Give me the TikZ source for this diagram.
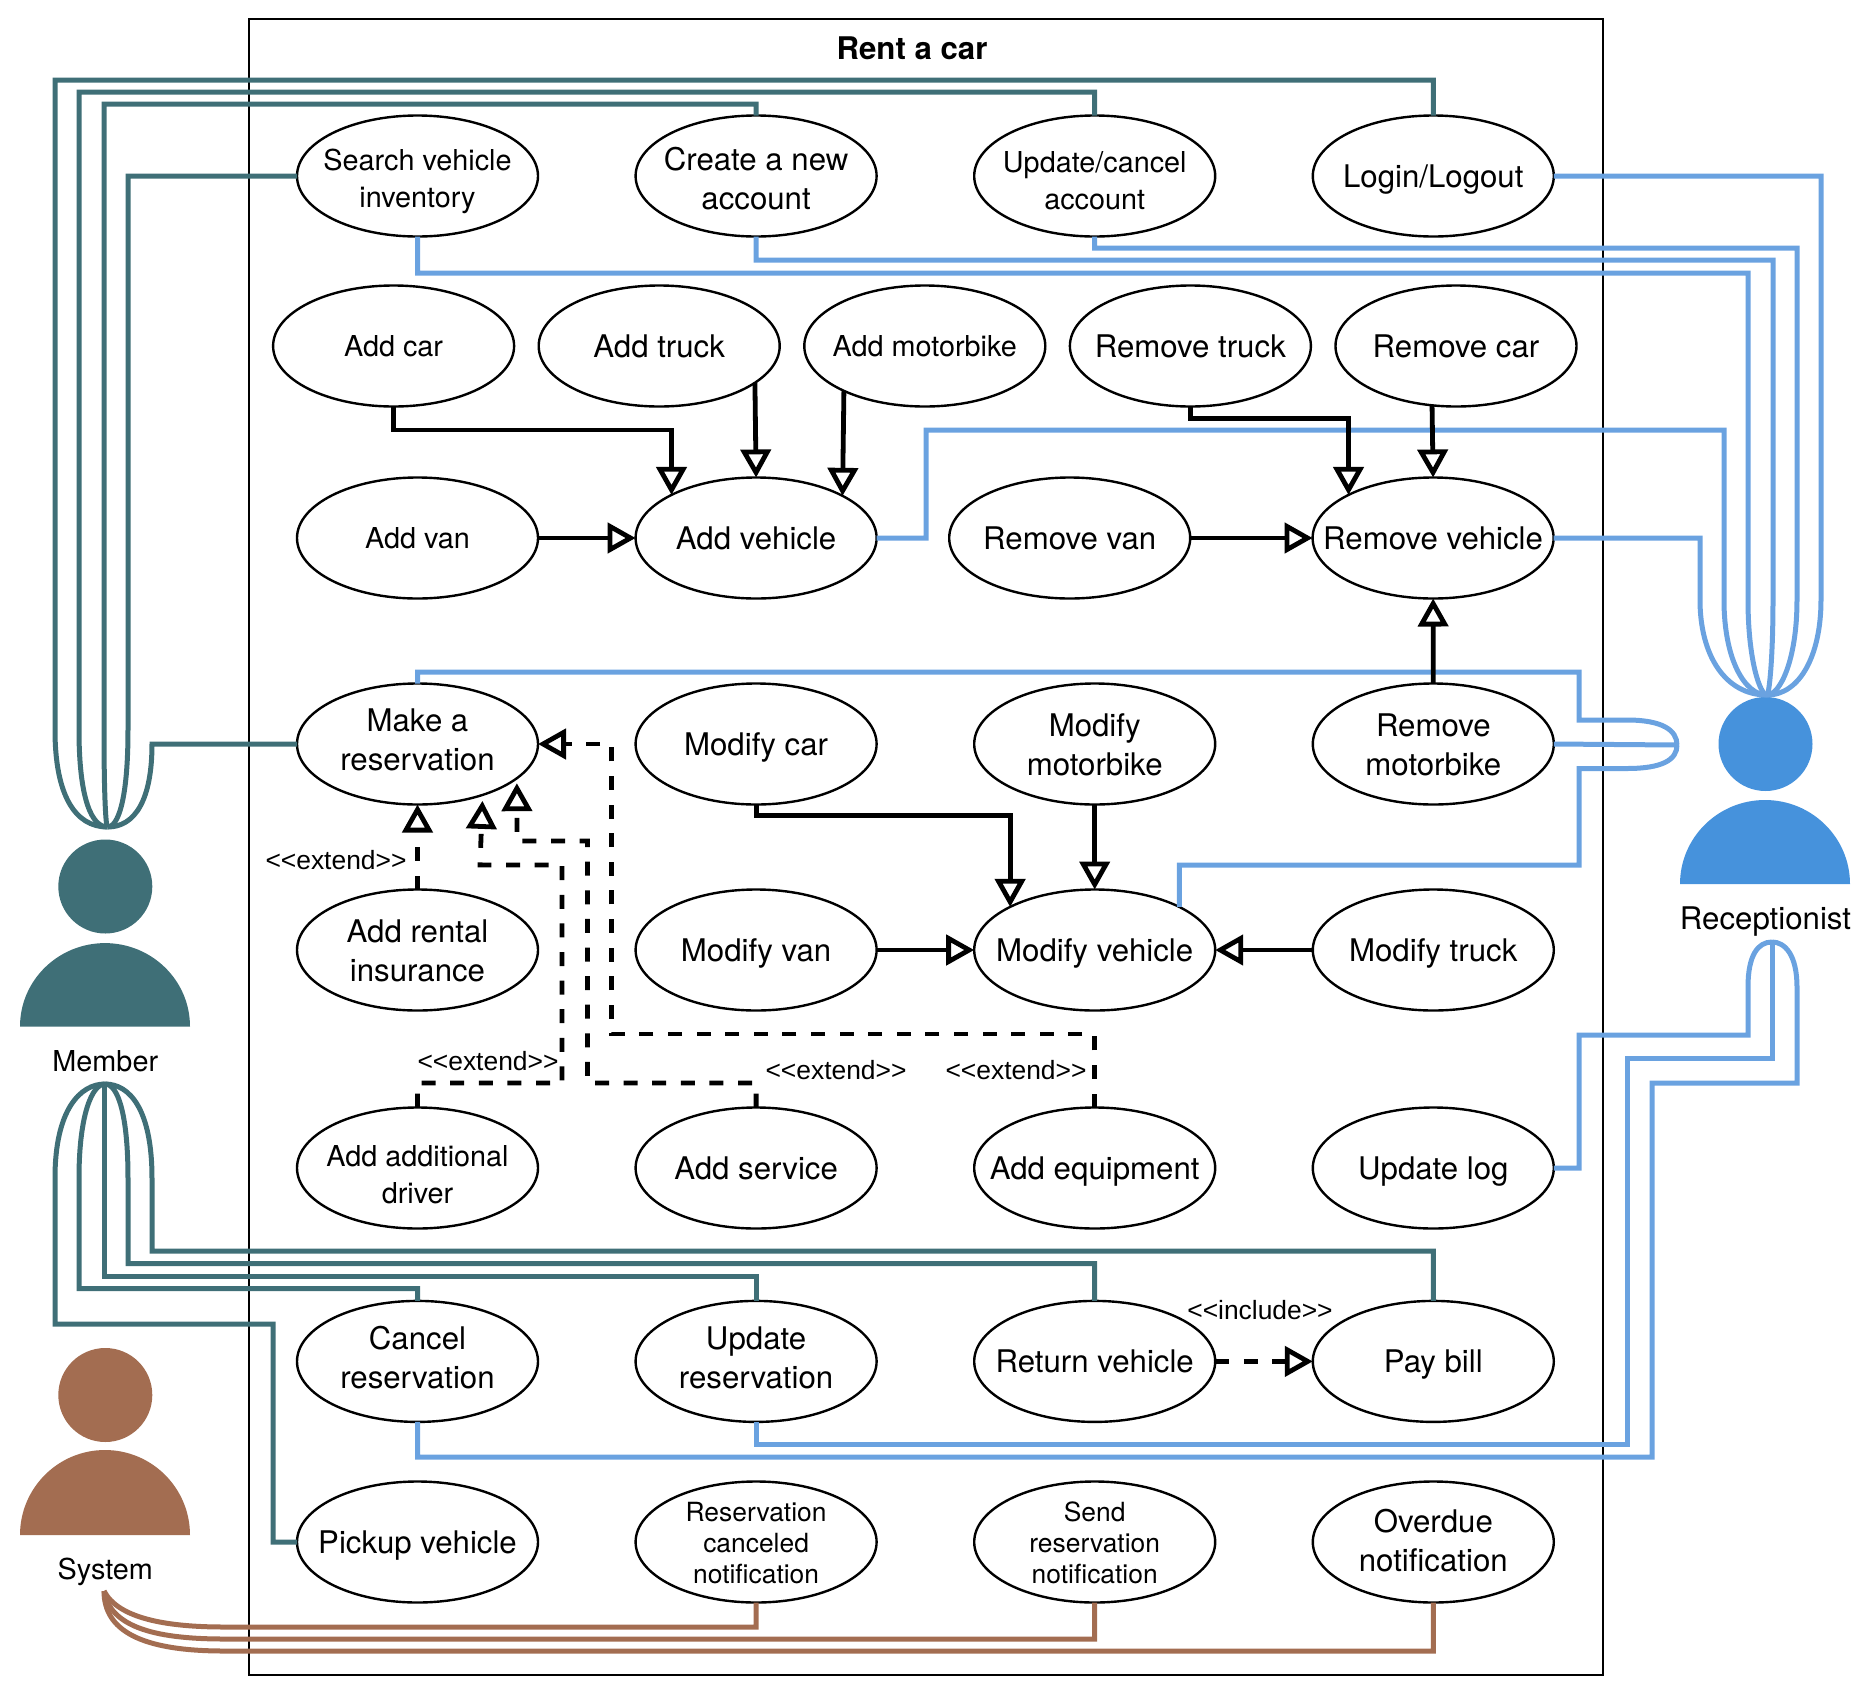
\documentclass[tikz,border=0pt]{standalone}
\usepackage{fontspec}
\setmainfont{TeX Gyre Heros}
\newfontfamily\tagfont{Liberation Sans}
\usepackage{xcolor}
\usepackage{tikz}
\usetikzlibrary{shapes.geometric,arrows.meta,positioning}

\definecolor{memberblue}{HTML}{3F6F77}
\definecolor{clerkblue}{HTML}{6AA2E0}
\definecolor{clerkfill}{HTML}{4692DC}
\definecolor{systembrown}{HTML}{A36D51}

\begin{document}
\begin{tikzpicture}[
    x=0.5pt, y=-0.5pt,
    node distance=48.8pt,
    usecase/.style={ellipse, draw, line width=1.2pt, fill=white, minimum width=120.5pt, minimum height=60.5pt, inner sep=-14pt, outer sep=0pt, align=center, font=\fontsize{15.6}{19.5}\selectfont,
        execute at begin node={\rule[-4pt]{0pt}{\dimexpr 0.72em+8pt}},
        execute at end node={\rule[-4pt]{0pt}{0pt}}},
    smallcase/.style={usecase, font=\fontsize{14.4}{18.5}\selectfont},
    tinycase/.style={usecase, font=\fontsize{13.2}{15.6}\selectfont},
    textdown/.style={execute at begin node={\rule[-4pt]{0pt}{#1}}},
    tag/.style={font=\tagfont\fontsize{13.2}{15}\selectfont, inner sep=0pt},
    arrow/.style={-{Triangle[open,length=14pt,width=15pt]}, line width=2.4pt},
    dasharrow/.style={arrow, dash pattern=on 7pt off 7.3pt},
    memberline/.style={draw=memberblue, line width=2.5pt},
    clerkline/.style={draw=clerkblue, line width=2.5pt},
    systemline/.style={draw=systembrown, line width=2.5pt}
]
    \useasboundingbox (0,0) rectangle (1876,1698);

    % Frame
    \node[draw, line width=1.2pt, minimum width=677pt, minimum height=828pt, inner sep=0pt] (frame) at (926,847) {};
    \node[font=\bfseries\fontsize{15.6}{19}\selectfont] (title) at (912,48) {Rent a car};

    % Use cases
    \node[smallcase, textdown=39.5pt] (search) at (417.5,176) {Search vehicle\\inventory};
    \node[usecase, textdown=41.3pt, right=of search] (create) {Create a new\\account};
    \node[smallcase, textdown=41.3pt, right=of create] (update) {Update/cancel\\account};
    \node[usecase, right=of update] (login) {Login/Logout};

    \node[smallcase] (addcar) at (393.6,346) {Add car};
    \node[usecase, right=12.3pt of addcar] (addtruck) {Add truck};
    \node[smallcase, right=12.3pt of addtruck] (addmotorbike) {Add motorbike};
    \node[usecase, right=12.3pt of addmotorbike] (removetruck) {Remove truck};
    \node[usecase, right=12.3pt of removetruck] (removecar) {Remove car};

    \node[smallcase, below=120.5pt of search] (addvan) {Add van};
    \node[usecase, right=of addvan] (addvehicle) {Add vehicle};
    \node[usecase, right=36.3pt of addvehicle] (removevan) {Remove van};
    \node[usecase, right=61.2pt of removevan] (removevehicle) {Remove vehicle};

    \node[usecase, below=42.5pt of addvan] (makeres) {Make a\\reservation};
    \node[usecase, right=of makeres] (modifycar) {Modify car};
    \node[usecase, textdown=39.5pt, right=of modifycar] (modifymotorbike) {Modify\\motorbike};
    \node[usecase, textdown=39.5pt, right=of modifymotorbike] (removemotorbike) {Remove\\motorbike};

    \node[usecase, textdown=39.5pt, below=42.5pt of makeres] (addrental) {Add rental\\insurance};
    \node[usecase, right=of addrental] (modifyvan) {Modify van};
    \node[usecase, right=of modifyvan] (modifyvehicle) {Modify vehicle};
    \node[usecase, right=of modifyvehicle] (modifytruck) {Modify truck};

    \node[smallcase, textdown=43.1pt, below=48.5pt of addrental] (adddriver) {Add additional\\driver};
    \node[usecase, right=of adddriver] (addservice) {Add service};
    \node[usecase, right=of addservice] (addequipment) {Add equipment};
    \node[usecase, right=of addequipment] (updatelog) {Update log};

    \node[usecase, below=36.2pt of adddriver] (cancelres) {Cancel\\reservation};
    \node[usecase, right=of cancelres] (updateres) {Update\\reservation};
    \node[usecase, right=of updateres] (returnvehicle) {Return vehicle};
    \node[usecase, right=of returnvehicle] (paybill) {Pay bill};

    \node[usecase, below=29.8pt of cancelres] (pickup) {Pickup vehicle};
    \node[tinycase, textdown=49.5pt, right=of pickup] (canceled) {Reservation\\canceled\\notification};
    \node[tinycase, textdown=49.5pt, right=of canceled] (sendres) {Send\\reservation\\notification};
    \node[usecase, textdown=37.1pt, right=of sendres] (overdue) {Overdue\\notification};

    % Actors
    \node[circle, fill=memberblue, minimum size=47pt, inner sep=0pt] (memberhead) at (105.3,886.5) {};
    \fill[memberblue] (20,1026.5) arc[start angle=180, end angle=0, x radius=42.5pt, y radius=41.7pt] -- cycle;
    \node[font=\fontsize{14.4}{17}\selectfont] (member) at (105.3,1061) {Member};

    \node[circle, fill=clerkfill, minimum size=47pt, inner sep=0pt] (clerkhead) at (1765.5,744) {};
    \fill[clerkfill] (1680,884) arc[start angle=180, end angle=0, x radius=42.5pt, y radius=42pt] -- cycle;
    \node[font=\fontsize{15.6}{19}\selectfont] (clerk) at (1765.5,922) {Receptionist};

    \node[circle, fill=systembrown, minimum size=47pt, inner sep=0pt] (systemhead) at (105.3,1395) {};
    \fill[systembrown] (20,1535) arc[start angle=180, end angle=0, x radius=42.5pt, y radius=42.5pt] -- cycle;
    \node[font=\fontsize{14.4}{17}\selectfont] (system) at (105.3,1572) {System};

    \coordinate (memberup) at (107.5,827);
    \coordinate (memberdown) at (105,1084);
    \coordinate (clerkup) at (1767,695);
    \coordinate (clerkfront) at (1677,745);
    \coordinate (clerkdown) at (1772,942);
    \coordinate (systemdown) at (104,1591);

    % Member, upper side
    \draw[memberline] (login.north) |- (55,80) -- (55,730) .. controls (55,795) and (75,827) .. (memberup);
    \draw[memberline] (update.north) |- (79,92) -- (79,730) .. controls (79,800) and (92,827) .. (memberup);
    \draw[memberline] (create.north) |- (104,104) -- (104,730) .. controls (104,800) and (106,827) .. (memberup);
    \draw[memberline] (search.west) -| (128,730) .. controls (128,800) and (118,827) .. (memberup);
    \draw[memberline] (makeres.west) -- (152,744) .. controls (152,800) and (135,827) .. (memberup);

    % Member, lower side
    \draw[memberline] (paybill.north) |- (152,1251) -- (152,1178) .. controls (152,1110) and (130,1084) .. (memberdown);
    \draw[memberline] (returnvehicle.north) |- (128,1263.5) -- (128,1178) .. controls (128,1115) and (118,1084) .. (memberdown);
    \draw[memberline] (updateres.north) |- (104,1276) -- (memberdown -| 104,0);
    \draw[memberline] (cancelres.north) |- (79,1288.5) -- (79,1178) .. controls (79,1115) and (92,1084) .. (memberdown);
    \draw[memberline] (pickup.west) -| (273,1324) -- (55,1324) -- (55,1178) .. controls (55,1110) and (80,1084) .. (memberdown);

    % Receptionist, upper side
    \draw[clerkline] (login.east) -| (1821,600) .. controls (1821,655) and (1800,695) .. (clerkup);
    \draw[clerkline] (update.south) |- (1797,248) -- (1797,600) .. controls (1797,660) and (1780,695) .. (clerkup);
    \draw[clerkline] (create.south) |- (1773,260) -- (1773,600) .. controls (1773,660) and (1769,695) .. (clerkup);
    \draw[clerkline] (search.south) |- (1748,273) -- (1748,600) .. controls (1748,660) and (1760,695) .. (clerkup);
    \draw[clerkline] (addvehicle.east) -| (926,430) -| (1724,600) .. controls (1724,660) and (1745,695) .. (clerkup);
    \draw[clerkline] (removevehicle.east) -| (1700,600) .. controls (1700,655) and (1725,695) .. (clerkup);

    % Receptionist, front
    \draw[clerkline] (makeres.north) |- (1579,672) |- (1627,720) .. controls (1662,720) and (1677,730) .. (clerkfront);
    \draw[clerkline] (modifyvehicle.27) |- (1579,865) |- (1627,768.5) .. controls (1662,768.5) and (1677,760) .. (clerkfront);
    \draw[clerkline] (removemotorbike.east) -- (clerkfront);

    % Receptionist, lower side
    \draw[clerkline] (updatelog.east) -| (1579,1035) -| (1748,987) .. controls (1748,955) and (1758,942) .. (clerkdown);
    \draw[clerkline] (updateres.south) |- (1627,1444) |- (1772,1058) -- (clerkdown);
    \draw[clerkline] (cancelres.south) |- (1652,1457) |- (1797,1083) -- (1797,987) .. controls (1797,955) and (1785,942) .. (clerkdown);

    % System
    \draw[systemline] (canceled.south) |- (224,1627) .. controls (165,1627) and (118,1618) .. (systemdown);
    \draw[systemline] (sendres.south) |- (224,1639) .. controls (150,1639) and (110,1625) .. (systemdown);
    \draw[systemline] (overdue.south) |- (224,1651) .. controls (140,1651) and (104,1630) .. (systemdown);

    % Generalization arrows
    \draw[arrow] (addcar.south) -- ++(0,23.5) -| (addvehicle.153);
    \draw[arrow] (addtruck.-21) -- (addvehicle.north);
    \draw[arrow] (addmotorbike.-151) -- (addvehicle.26);
    \draw[arrow] (addvan) -- (addvehicle);
    \draw[arrow] (removetruck.south) -- ++(0,12) -| (removevehicle.153);
    \draw[arrow] (removecar.-112) -- (removevehicle.north);
    \draw[arrow] (removevan) -- (removevehicle);
    \draw[arrow] (removemotorbike) -- (removevehicle);
    \draw[arrow] (modifycar.south) -- ++(0,11) -| (modifyvehicle.153);
    \draw[arrow] (modifymotorbike) -- (modifyvehicle);
    \draw[arrow] (modifyvan) -- (modifyvehicle);
    \draw[arrow] (modifytruck) -- (modifyvehicle);

    % Extend and include arrows
    \draw[dasharrow] (addrental) -- (makeres);
    \draw[dasharrow, shorten >=3pt] (adddriver.north) |- (562,1083) |- (480,865) -- (makeres.-38);
    \draw[dasharrow, shorten >=2.5pt] (addservice.north) |- (587.5,1083) |- (517,841) -- (makeres.-19);
    \draw[dasharrow] (addequipment.north) |- (611.5,1034) |- (makeres.east);
    \draw[dasharrow] (returnvehicle) -- (paybill);

    % Labels
    \node[tag] (extendrental) at (336,860) {<{}<extend>{}>};
    \node[tag] (extenddriver) at (488,1061) {<{}<extend>{}>};
    \node[tag] (extendservice) at (836,1070) {<{}<extend>{}>};
    \node[tag] (extendequipment) at (1016,1070) {<{}<extend>{}>};
    \node[tag] (includebill) at (1260,1310) {<{}<include>{}>};
\end{tikzpicture}
\end{document}
